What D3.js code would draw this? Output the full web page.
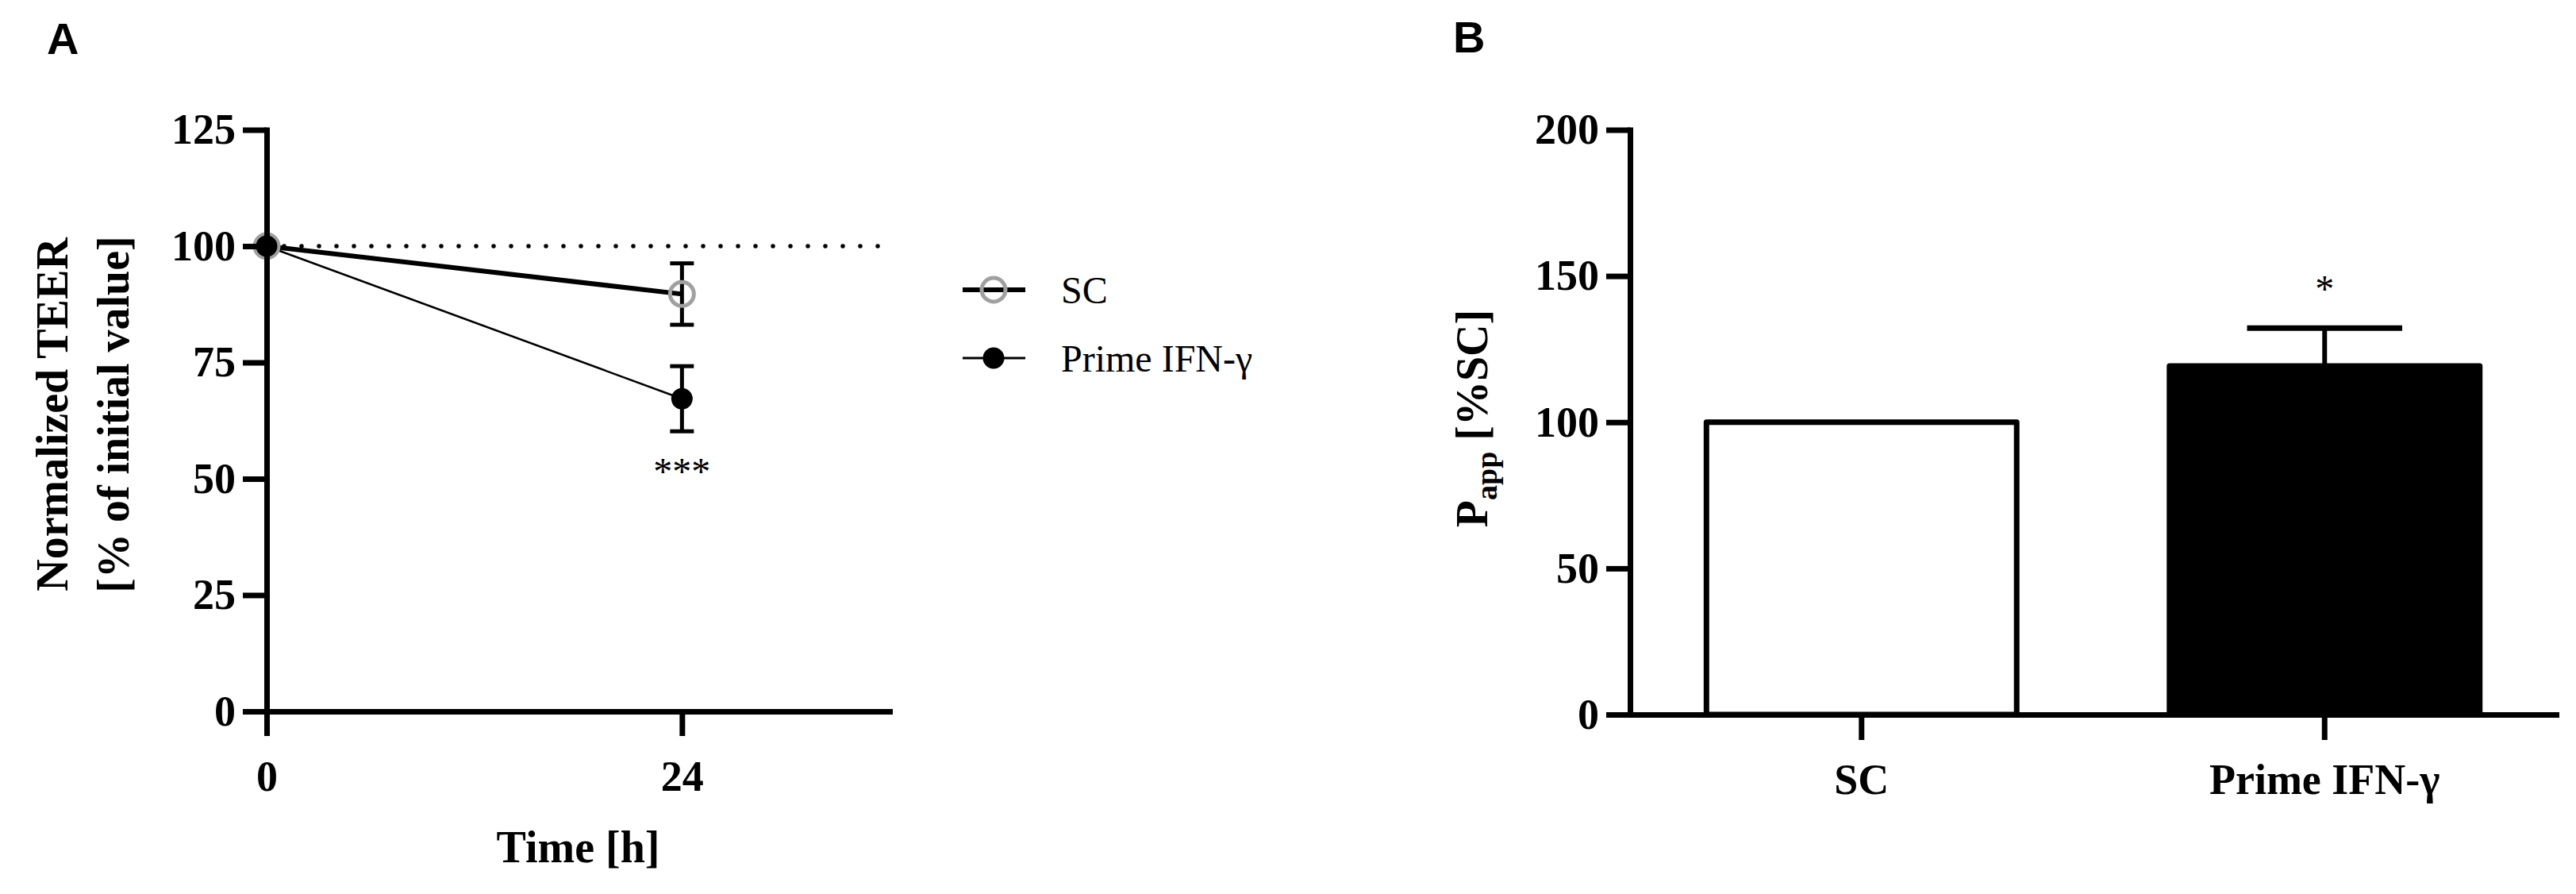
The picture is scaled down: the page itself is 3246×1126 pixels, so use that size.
<!DOCTYPE html>
<html lang="en">
<head>
    <meta charset="UTF-8">
    <title>TEER and Papp</title>
    <style>
        body { margin: 0; background: #fff; }
    </style>
</head>
<body>
    <div id="chart"></div>

    <script src="https://d3js.org/d3.v7.min.js"></script>
    <script>
        // panel A data: normalized TEER over time
        var timeH = [0, 24];
        var scMean = [100, 89.7];
        var scSem = [0, 6.6];
        var primeMean = [100, 67.2];
        var primeSem = [0, 7.0];
        var yTicksA = [0, 25, 50, 75, 100, 125];

        // panel B data: Papp
        var barCats = ["SC", "Prime IFN-γ"];
        var barVals = [100, 119.2];
        var barSem = [0, 13];
        var yTicksB = [0, 50, 100, 150, 200];

        var serif = "'Liberation Serif', 'Times New Roman', serif";
        var sans = "'Liberation Sans', Arial, sans-serif";

        var svg = d3.select("#chart")
            .append("svg")
                .attr("width", 3246)
                .attr("height", 1126)
                .style("background", "#fff");

        function styleAxis(g) {
            g.attr("font-family", serif)
             .attr("font-size", 54)
             .attr("font-weight", "bold");
            g.select(".domain")
                .style("stroke", "#000")
                .style("stroke-width", 7)
                .style("stroke-linecap", "square");
            g.selectAll(".tick line")
                .style("stroke", "#000")
                .style("stroke-width", 7);
            g.selectAll(".tick text").style("fill", "#000");
        }

        // ---------- Panel A ----------
        var xA = d3.scaleLinear().domain([0, 36]).range([336, 1121]);
        var yA = d3.scaleLinear().domain([0, 125]).range([896, 163.5]);

        var gA = svg.append("g");

        // dotted 100% line
        gA.append("line")
            .attr("x1", xA(0))
            .attr("x2", xA(36))
            .attr("y1", yA(100))
            .attr("y2", yA(100))
            .style("stroke", "#000")
            .style("stroke-width", 5.5)
            .style("stroke-linecap", "round")
            .style("stroke-dasharray", "0 22");

        var lineSC = d3.line()
            .x(function(d, i){ return xA(timeH[i]); })
            .y(function(d){ return yA(d); });

        gA.append("path")
            .attr("d", lineSC(scMean))
            .style("fill", "none")
            .style("stroke", "#000")
            .style("stroke-width", 6);

        gA.append("path")
            .attr("d", lineSC(primeMean))
            .style("fill", "none")
            .style("stroke", "#000")
            .style("stroke-width", 2.5);

        // error bars (mean +/- sem)
        function errBars(mean, sem) {
            timeH.forEach(function(t, i){
                if (!sem[i]) return;
                var cx = xA(t);
                var top = yA(mean[i] + sem[i]);
                var bot = yA(mean[i] - sem[i]);
                gA.append("line")
                    .attr("x1", cx).attr("x2", cx)
                    .attr("y1", top).attr("y2", bot)
                    .style("stroke", "#000").style("stroke-width", 5);
                [top, bot].forEach(function(y){
                    gA.append("line")
                        .attr("x1", cx - 15).attr("x2", cx + 15)
                        .attr("y1", y).attr("y2", y)
                        .style("stroke", "#000").style("stroke-width", 5);
                });
            });
        }
        errBars(scMean, scSem);
        errBars(primeMean, primeSem);

        // markers
        gA.selectAll(".sc-dot")
            .data(scMean)
            .enter()
            .append("circle")
                .attr("cx", function(d, i){ return xA(timeH[i]); })
                .attr("cy", function(d){ return yA(d); })
                .attr("r", 15)
                .style("fill", "none")
                .style("stroke", "#a0a0a0")
                .style("stroke-width", 5);

        gA.selectAll(".prime-dot")
            .data(primeMean)
            .enter()
            .append("circle")
                .attr("cx", function(d, i){ return xA(timeH[i]); })
                .attr("cy", function(d){ return yA(d); })
                .attr("r", 13.5)
                .style("fill", "#000");

        // axes
        gA.append("g")
            .attr("transform", "translate(" + xA(0) + ",0)")
            .call(d3.axisLeft(yA).tickValues(yTicksA).tickSize(30).tickSizeOuter(0).tickPadding(9))
            .call(styleAxis);

        gA.append("g")
            .attr("transform", "translate(0," + yA(0) + ")")
            .call(d3.axisBottom(xA).tickValues(timeH).tickSize(31).tickSizeOuter(0).tickPadding(31))
            .call(styleAxis);

        // significance
        gA.append("text")
            .attr("x", xA(24))
            .attr("y", yA(primeMean[1] - primeSem[1]) + 67)
            .attr("text-anchor", "middle")
            .attr("font-family", serif)
            .attr("font-size", 48)
            .text("***");

        // axis titles
        gA.append("text")
            .attr("x", (xA.range()[0] + xA.range()[1]) / 2)
            .attr("y", 1086)
            .attr("text-anchor", "middle")
            .attr("font-family", serif)
            .attr("font-size", 56)
            .attr("font-weight", "bold")
            .text("Time [h]");

        gA.append("text")
            .attr("transform", "translate(85,522) rotate(-90)")
            .attr("text-anchor", "middle")
            .attr("font-family", serif)
            .attr("font-size", 56)
            .attr("font-weight", "bold")
            .text("Normalized TEER");

        gA.append("text")
            .attr("transform", "translate(162,522) rotate(-90)")
            .attr("text-anchor", "middle")
            .attr("font-family", serif)
            .attr("font-size", 56)
            .attr("font-weight", "bold")
            .text("[% of initial value]");

        // legend
        var legend = svg.append("g");
        var legItems = [
            { name: "SC", y: 365, width: 6, open: true },
            { name: "Prime IFN-γ", y: 451, width: 3, open: false }
        ];
        legItems.forEach(function(it){
            legend.append("line")
                .attr("x1", 1213).attr("x2", 1292)
                .attr("y1", it.y).attr("y2", it.y)
                .style("stroke", "#000").style("stroke-width", it.width);
            if (it.open) {
                legend.append("circle")
                    .attr("cx", 1252).attr("cy", it.y).attr("r", 15)
                    .style("fill", "none").style("stroke", "#a0a0a0").style("stroke-width", 5);
            } else {
                legend.append("circle")
                    .attr("cx", 1252).attr("cy", it.y).attr("r", 13.5)
                    .style("fill", "#000");
            }
            legend.append("text")
                .attr("x", 1337)
                .attr("y", it.y + 17)
                .attr("font-family", serif)
                .attr("font-size", 48)
                .text(it.name);
        });

        // ---------- Panel B ----------
        var xB = d3.scaleBand().domain(barCats).range([2054, 3221]).padding(0);
        var yB = d3.scaleLinear().domain([0, 200]).range([900, 163.5]);
        var barW = xB.bandwidth() * 0.67;

        var gB = svg.append("g");

        gB.selectAll("rect")
            .data(barVals)
            .enter()
            .append("rect")
                .attr("x", function(d, i){ return xB(barCats[i]) + (xB.bandwidth() - barW) / 2; })
                .attr("y", function(d){ return yB(d); })
                .attr("width", barW)
                .attr("height", function(d){ return yB(0) - yB(d); })
                .style("fill", function(d, i){ return i === 0 ? "#fff" : "#000"; })
                .style("stroke", "#000")
                .style("stroke-width", 7)
                .style("stroke-linejoin", "round");

        barVals.forEach(function(v, i){
            if (!barSem[i]) return;
            var cx = xB(barCats[i]) + xB.bandwidth() / 2;
            gB.append("line")
                .attr("x1", cx).attr("x2", cx)
                .attr("y1", yB(v)).attr("y2", yB(v + barSem[i]))
                .style("stroke", "#000").style("stroke-width", 6);
            gB.append("line")
                .attr("x1", cx - barW / 4).attr("x2", cx + barW / 4)
                .attr("y1", yB(v + barSem[i])).attr("y2", yB(v + barSem[i]))
                .style("stroke", "#000").style("stroke-width", 7);
            gB.append("text")
                .attr("x", cx)
                .attr("y", yB(v + barSem[i]) - 33)
                .attr("text-anchor", "middle")
                .attr("font-family", serif)
                .attr("font-size", 48)
                .text("*");
        });

        gB.append("g")
            .attr("transform", "translate(2054,0)")
            .call(d3.axisLeft(yB).tickValues(yTicksB).tickSize(30).tickSizeOuter(0).tickPadding(9))
            .call(styleAxis);

        gB.append("g")
            .attr("transform", "translate(0," + yB(0) + ")")
            .call(d3.axisBottom(xB).tickSize(32).tickSizeOuter(0).tickPadding(30))
            .call(styleAxis);

        var yLabB = gB.append("text")
            .attr("transform", "translate(1874,527) rotate(-90)")
            .attr("text-anchor", "middle")
            .attr("font-family", serif)
            .attr("font-size", 56)
            .attr("font-weight", "bold");
        yLabB.append("tspan").text("P");
        yLabB.append("tspan").attr("font-size", 38).attr("dy", 12).text("app");
        yLabB.append("tspan").attr("dy", -12).text(" [%SC]");

        // panel letters
        svg.append("text")
            .attr("x", 59).attr("y", 68)
            .attr("font-family", sans).attr("font-size", 56).attr("font-weight", "bold")
            .text("A");
        svg.append("text")
            .attr("x", 1831).attr("y", 66)
            .attr("font-family", sans).attr("font-size", 56).attr("font-weight", "bold")
            .text("B");
    </script>
</body>
</html>
